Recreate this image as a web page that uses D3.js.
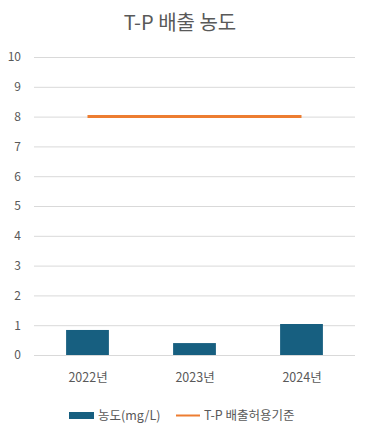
<!DOCTYPE html>
<html><head><meta charset="utf-8">
<script src="https://cdn.jsdelivr.net/npm/d3@7"></script>
<style>body{margin:0;background:#fff}svg{display:block}</style>
</head><body>
<script>
const categories = ["2022년", "2023년", "2024년"];
const concentration = [0.84, 0.40, 1.04];
const standard = [8, 8, 8];
const yTicks = [0,1,2,3,4,5,6,7,8,9,10];
const title = "T-P 배출 농도";
const seriesNames = ["농도(mg/L)", "T-P 배출허용기준"];

const W = 366, H = 433;
const font = "'Noto Sans CJK KR', 'Noto Sans', sans-serif";
const svg = d3.select("body").append("svg").attr("width", W).attr("height", H);
const m = {left: 34, right: 11, top: 57, bottom: 78};
const x = d3.scaleBand().domain(categories).range([m.left, W - m.right]).paddingInner(0.6).paddingOuter(0.3);
const xc = d3.scalePoint().domain(categories).range([m.left, W - m.right]).padding(0.5);
const y = d3.scaleLinear().domain([0, 10]).range([H - m.bottom, m.top]);

svg.append("text").attr("x", 180).attr("y", 30).attr("text-anchor", "middle")
  .attr("font-family", font).attr("font-size", 20).attr("fill", "#595959").text(title);

const yAxis = svg.append("g").attr("transform", `translate(${m.left},0)`)
  .call(d3.axisLeft(y).tickValues(yTicks).tickSize(-(W - m.left - m.right)).tickPadding(13).tickFormat(d3.format("d")));
yAxis.select(".domain").remove();
yAxis.selectAll("line").attr("stroke", "#d9d9d9");
yAxis.selectAll("text").attr("font-family", font).attr("font-size", 12).attr("fill", "#595959");

svg.append("g").selectAll("rect").data(concentration).join("rect")
  .attr("x", (d, i) => x(categories[i])).attr("width", x.bandwidth())
  .attr("y", d => y(d)).attr("height", d => y(0) - y(d)).attr("fill", "#175f80");

svg.append("path").datum(standard)
  .attr("d", d3.line().x((d, i) => xc(categories[i])).y(d => y(d)))
  .attr("fill", "none").attr("stroke", "#ed7d31").attr("stroke-width", 3);

const xAxis = svg.append("g").attr("transform", `translate(0,${y(0)})`)
  .call(d3.axisBottom(xc).tickSize(0).tickPadding(18));
xAxis.select(".domain").remove();
xAxis.selectAll("text").attr("font-family", font).attr("font-size", 12.5).attr("fill", "#595959");

const lg = svg.append("g").attr("font-family", font).attr("font-size", 12.5).attr("fill", "#595959");
lg.append("rect").attr("x", 69).attr("y", 412).attr("width", 25).attr("height", 7).attr("fill", "#175f80");
lg.append("text").attr("x", 98).attr("y", 420).text(seriesNames[0]);
lg.append("line").attr("x1", 176).attr("x2", 200).attr("y1", 415.5).attr("y2", 415.5).attr("stroke", "#ed7d31").attr("stroke-width", 2);
lg.append("text").attr("x", 204).attr("y", 420).text(seriesNames[1]);
</script>
</body></html>
